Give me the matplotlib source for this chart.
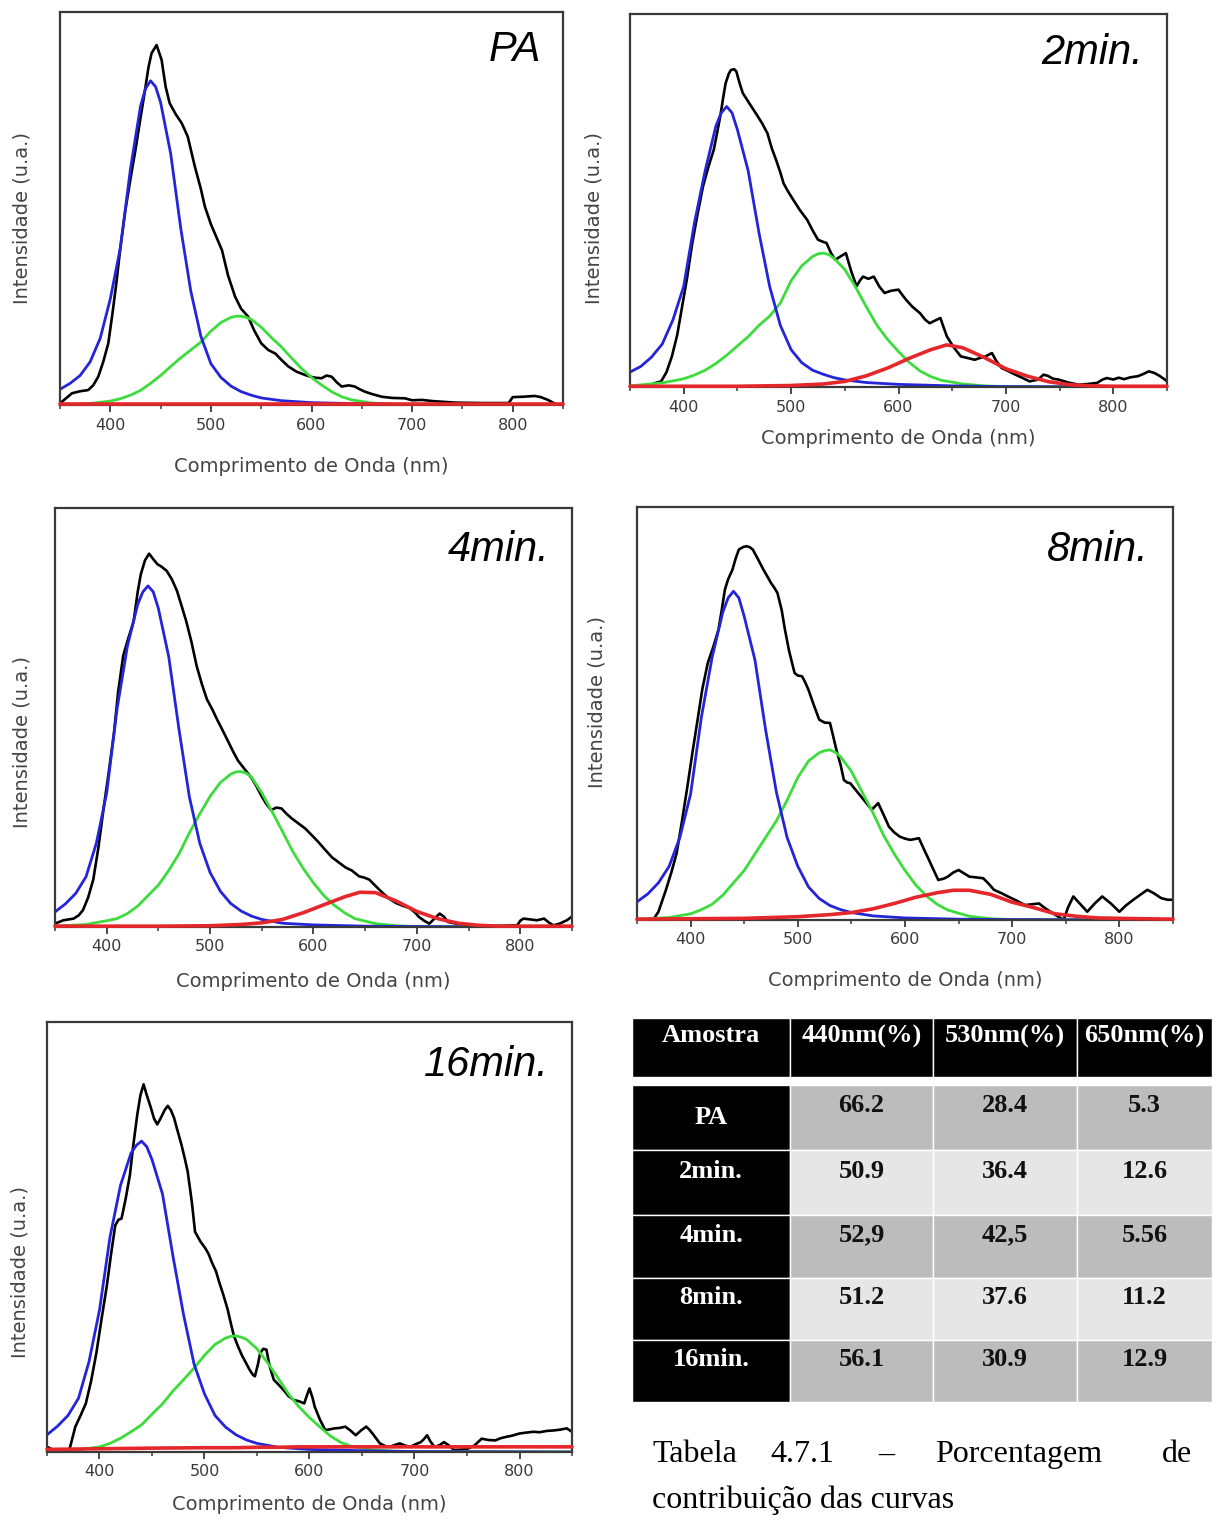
import matplotlib.pyplot as plt
from matplotlib.ticker import MultipleLocator

# shared wavelength grids for the fitted components (nm)
blue_nm = [350, 360, 370, 380, 390, 400, 410, 420, 430, 435, 440, 445, 450, 460, 470, 480, 490,
           500, 510, 520, 530, 540, 550, 570, 600, 650, 700, 850]
green_nm = [350, 380, 400, 410, 420, 430, 440, 450, 460, 470, 480, 490, 500, 510, 520, 525, 530,
            535, 540, 550, 560, 570, 580, 590, 600, 610, 620, 630, 640, 660, 680, 700, 850]
red_nm = [350, 450, 500, 530, 550, 570, 590, 610, 630, 645, 660, 680, 700, 720, 740, 760,
          780, 800, 850]

# ---- PA ----
pa_black = [(350, 0.004), (355, 0.015), (362, 0.03), (370, 0.035), (378, 0.038), (383, 0.05),
            (388, 0.072), (393, 0.11), (398, 0.157), (402, 0.23), (406, 0.31), (410, 0.40),
            (415, 0.496), (420, 0.575), (425, 0.649), (430, 0.73), (434, 0.793), (438, 0.86),
            (441, 0.895), (446, 0.916), (451, 0.878), (455, 0.81), (459, 0.768), (465, 0.74),
            (471, 0.717), (477, 0.683), (484, 0.607), (490, 0.55), (494, 0.505), (500, 0.46),
            (505, 0.43), (511, 0.394), (517, 0.33), (524, 0.276), (530, 0.245), (537, 0.225),
            (543, 0.19), (550, 0.157), (557, 0.14), (564, 0.131), (570, 0.115), (577, 0.098),
            (585, 0.085), (594, 0.076), (602, 0.07), (610, 0.068), (615, 0.075), (620, 0.072),
            (625, 0.058), (630, 0.047), (637, 0.05), (643, 0.047), (648, 0.04), (653, 0.034),
            (660, 0.028), (670, 0.021), (680, 0.018), (693, 0.017), (700, 0.012), (710, 0.013),
            (720, 0.01), (743, 0.006), (770, 0.005), (796, 0.005), (800, 0.02), (810, 0.021),
            (822, 0.023), (828, 0.02), (835, 0.013), (840, 0.006), (845, 0.0), (850, 0.003)]
pa_blue = [0.04, 0.055, 0.075, 0.11, 0.17, 0.27, 0.40, 0.60, 0.76, 0.805, 0.825, 0.81, 0.77,
           0.64, 0.45, 0.29, 0.175, 0.105, 0.07, 0.048, 0.034, 0.025, 0.018, 0.011, 0.006,
           0.003, 0.001, 0.0]
pa_green = [0.0, 0.004, 0.01, 0.016, 0.025, 0.037, 0.055, 0.075, 0.098, 0.12, 0.14, 0.16, 0.188,
            0.21, 0.223, 0.226, 0.226, 0.223, 0.218, 0.198, 0.172, 0.148, 0.12, 0.093, 0.07,
            0.051, 0.034, 0.021, 0.013, 0.005, 0.002, 0.001, 0.0]
pa_red = [0.002] * 19

# ---- 2min ----
m2_black = [(365, 0.0), (369, 0.006), (375, 0.012), (379, 0.015), (384, 0.04), (389, 0.082),
            (394, 0.14), (398, 0.207), (403, 0.29), (408, 0.386), (413, 0.465), (418, 0.538),
            (423, 0.59), (428, 0.636), (431, 0.68), (434, 0.725), (437, 0.78), (439, 0.814),
            (442, 0.84), (444, 0.85), (447, 0.852), (449, 0.846), (452, 0.815), (455, 0.788),
            (459, 0.77), (463, 0.752), (468, 0.73), (473, 0.707), (478, 0.68), (482, 0.64),
            (486, 0.609), (490, 0.575), (493, 0.546), (497, 0.525), (502, 0.502), (508, 0.475),
            (515, 0.448), (520, 0.42), (525, 0.395), (529, 0.39), (533, 0.386), (537, 0.36),
            (541, 0.341), (546, 0.35), (551, 0.359), (556, 0.31), (561, 0.27), (564, 0.285),
            (567, 0.296), (572, 0.29), (577, 0.296), (582, 0.27), (587, 0.252), (593, 0.258),
            (600, 0.261), (604, 0.245), (607, 0.234), (613, 0.215), (620, 0.198), (625, 0.18),
            (629, 0.171), (634, 0.178), (639, 0.185), (642, 0.16), (645, 0.136), (651, 0.108),
            (658, 0.082), (664, 0.078), (671, 0.073), (676, 0.078), (681, 0.082), (687, 0.091),
            (691, 0.07), (696, 0.051), (702, 0.043), (709, 0.033), (715, 0.025), (722, 0.015),
            (730, 0.02), (735, 0.033), (739, 0.03), (744, 0.022), (749, 0.02), (758, 0.012),
            (768, 0.006), (776, 0.008), (785, 0.011), (790, 0.02), (794, 0.024), (800, 0.02),
            (805, 0.025), (810, 0.021), (816, 0.026), (823, 0.029), (828, 0.035), (833, 0.042),
            (838, 0.038), (843, 0.03), (848, 0.02), (850, 0.015)]
m2_blue = [0.04, 0.055, 0.08, 0.115, 0.18, 0.27, 0.44, 0.58, 0.70, 0.735, 0.752, 0.735, 0.69,
           0.58, 0.415, 0.27, 0.165, 0.10, 0.065, 0.045, 0.034, 0.025, 0.019, 0.012, 0.007,
           0.003, 0.001, 0.0]
m2_green = [0.003, 0.011, 0.022, 0.032, 0.045, 0.063, 0.085, 0.11, 0.135, 0.165, 0.19, 0.225,
            0.285, 0.325, 0.35, 0.357, 0.359, 0.355, 0.345, 0.315, 0.268, 0.215, 0.165, 0.127,
            0.095, 0.066, 0.043, 0.028, 0.018, 0.008, 0.003, 0.001, 0.0]
m2_red = [0.002, 0.002, 0.004, 0.008, 0.015, 0.03, 0.051, 0.077, 0.1, 0.113, 0.105, 0.079,
          0.049, 0.029, 0.014, 0.006, 0.003, 0.002, 0.002]

# ---- 4min ----
m4_black = [(350, 0.008), (354, 0.012), (358, 0.016), (363, 0.018), (368, 0.02), (373, 0.028),
            (377, 0.04), (382, 0.07), (387, 0.113), (392, 0.19), (397, 0.283), (402, 0.37),
            (407, 0.462), (411, 0.56), (416, 0.648), (421, 0.69), (426, 0.729), (430, 0.8),
            (433, 0.842), (437, 0.875), (441, 0.891), (445, 0.878), (449, 0.866), (453, 0.86),
            (458, 0.85), (463, 0.83), (468, 0.802), (472, 0.77), (477, 0.729), (482, 0.68),
            (487, 0.623), (492, 0.58), (497, 0.543), (502, 0.52), (507, 0.494), (512, 0.47),
            (517, 0.445), (522, 0.42), (527, 0.397), (533, 0.378), (540, 0.356), (545, 0.335),
            (549, 0.316), (554, 0.295), (559, 0.279), (564, 0.285), (569, 0.283), (574, 0.27),
            (579, 0.259), (585, 0.248), (592, 0.235), (598, 0.22), (605, 0.202), (611, 0.185),
            (618, 0.166), (624, 0.155), (631, 0.142), (637, 0.135), (644, 0.121), (649, 0.118),
            (654, 0.113), (660, 0.098), (667, 0.081), (673, 0.068), (680, 0.057), (687, 0.05),
            (693, 0.045), (698, 0.035), (702, 0.024), (707, 0.015), (712, 0.008), (717, 0.02),
            (722, 0.032), (726, 0.025), (730, 0.012), (740, 0.007), (751, 0.004), (767, 0.002),
            (785, 0.003), (797, 0.004), (800, 0.015), (803, 0.02), (810, 0.018), (816, 0.016),
            (823, 0.02), (828, 0.01), (832, 0.004), (838, 0.008), (845, 0.016), (850, 0.025)]
m4_blue = [0.036, 0.055, 0.08, 0.12, 0.2, 0.32, 0.52, 0.67, 0.77, 0.80, 0.814, 0.80, 0.76,
           0.645, 0.47, 0.31, 0.2, 0.13, 0.085, 0.056, 0.038, 0.026, 0.018, 0.009, 0.005,
           0.002, 0.001, 0.0]
m4_green = [0.002, 0.006, 0.015, 0.02, 0.032, 0.05, 0.075, 0.1, 0.135, 0.175, 0.225, 0.27,
            0.312, 0.345, 0.365, 0.37, 0.371, 0.367, 0.358, 0.32, 0.275, 0.228, 0.18, 0.14,
            0.105, 0.075, 0.052, 0.034, 0.02, 0.008, 0.003, 0.001, 0.0]
m4_red = [0.002, 0.002, 0.003, 0.006, 0.01, 0.018, 0.034, 0.053, 0.072, 0.083, 0.082, 0.062,
          0.037, 0.02, 0.009, 0.004, 0.002, 0.002, 0.002]

# ---- 8min ----
m8_black = [(365, 0.0), (370, 0.02), (377, 0.073), (382, 0.115), (387, 0.162), (392, 0.24),
            (397, 0.323), (402, 0.41), (407, 0.493), (411, 0.56), (416, 0.622), (421, 0.66),
            (426, 0.703), (429, 0.75), (432, 0.8), (435, 0.825), (439, 0.848), (442, 0.875),
            (445, 0.897), (449, 0.903), (452, 0.905), (455, 0.903), (458, 0.897), (463, 0.873),
            (468, 0.848), (472, 0.83), (475, 0.816), (478, 0.805), (481, 0.792), (485, 0.75),
            (488, 0.703), (492, 0.65), (497, 0.598), (500, 0.592), (504, 0.59), (507, 0.575),
            (510, 0.557), (515, 0.52), (520, 0.485), (525, 0.478), (530, 0.477), (533, 0.445),
            (536, 0.412), (540, 0.375), (543, 0.339), (546, 0.333), (549, 0.331), (554, 0.315),
            (559, 0.299), (564, 0.283), (569, 0.267), (572, 0.275), (575, 0.283), (580, 0.255),
            (585, 0.226), (590, 0.212), (595, 0.202), (600, 0.197), (605, 0.194), (609, 0.196),
            (613, 0.198), (617, 0.175), (621, 0.153), (626, 0.125), (631, 0.097), (636, 0.1),
            (640, 0.105), (645, 0.115), (650, 0.121), (655, 0.113), (660, 0.105), (667, 0.103),
            (673, 0.101), (678, 0.088), (683, 0.073), (690, 0.065), (696, 0.057), (704, 0.047),
            (712, 0.036), (718, 0.038), (725, 0.04), (731, 0.028), (738, 0.016), (743, 0.008),
            (748, 0.0), (752, 0.03), (757, 0.057), (763, 0.04), (770, 0.02), (777, 0.04),
            (784, 0.057), (792, 0.04), (800, 0.02), (806, 0.035), (813, 0.049), (820, 0.062),
            (826, 0.073), (832, 0.065), (839, 0.053), (845, 0.049), (850, 0.049)]
m8_blue = [0.044, 0.063, 0.09, 0.13, 0.2, 0.305, 0.49, 0.635, 0.745, 0.78, 0.796, 0.78, 0.735,
           0.63, 0.46, 0.31, 0.2, 0.13, 0.08, 0.052, 0.035, 0.025, 0.018, 0.01, 0.005, 0.002,
           0.001, 0.0]
m8_green = [0.002, 0.006, 0.015, 0.025, 0.038, 0.06, 0.09, 0.12, 0.16, 0.2, 0.24, 0.29, 0.345,
            0.385, 0.405, 0.41, 0.412, 0.406, 0.395, 0.36, 0.31, 0.26, 0.205, 0.16, 0.12, 0.085,
            0.058, 0.038, 0.024, 0.009, 0.003, 0.001, 0.0]
m8_red = [0.002, 0.004, 0.008, 0.013, 0.018, 0.027, 0.04, 0.055, 0.066, 0.072, 0.072, 0.062,
          0.043, 0.03, 0.015, 0.009, 0.005, 0.004, 0.002]

# ---- 16min ----
m16_black = [(350, 0.012), (355, 0.006), (360, 0.002), (364, 0.0), (371, 0.002), (377, 0.059),
             (382, 0.085), (387, 0.113), (392, 0.165), (397, 0.23), (402, 0.31), (407, 0.387),
             (411, 0.46), (415, 0.527), (418, 0.54), (421, 0.543), (425, 0.59), (429, 0.645),
             (432, 0.71), (436, 0.785), (439, 0.83), (442, 0.855), (445, 0.83), (449, 0.8),
             (452, 0.775), (455, 0.762), (458, 0.775), (462, 0.795), (465, 0.805), (468, 0.795),
             (471, 0.777), (474, 0.75), (478, 0.715), (481, 0.685), (484, 0.652), (488, 0.58),
             (491, 0.512), (496, 0.49), (501, 0.473), (504, 0.46), (507, 0.441), (511, 0.42),
             (514, 0.395), (518, 0.365), (522, 0.332), (525, 0.3), (528, 0.27), (532, 0.245),
             (536, 0.223), (540, 0.205), (543, 0.191), (546, 0.18), (548, 0.176), (551, 0.205),
             (553, 0.23), (556, 0.24), (559, 0.238), (562, 0.2), (566, 0.168), (570, 0.158),
             (575, 0.145), (580, 0.13), (585, 0.121), (590, 0.118), (595, 0.113), (598, 0.135),
             (600, 0.148), (603, 0.125), (605, 0.105), (610, 0.075), (615, 0.051), (620, 0.053),
             (624, 0.055), (629, 0.056), (634, 0.059), (639, 0.05), (644, 0.039), (649, 0.05),
             (654, 0.059), (657, 0.052), (660, 0.043), (664, 0.03), (667, 0.02), (672, 0.014),
             (676, 0.012), (681, 0.016), (686, 0.02), (691, 0.015), (696, 0.012), (701, 0.018),
             (706, 0.023), (709, 0.03), (712, 0.039), (715, 0.025), (719, 0.012), (724, 0.016),
             (728, 0.023), (733, 0.015), (738, 0.004), (745, 0.006), (751, 0.008), (757, 0.015),
             (764, 0.031), (770, 0.028), (777, 0.027), (782, 0.032), (787, 0.035), (793, 0.038),
             (800, 0.043), (806, 0.045), (813, 0.047), (819, 0.046), (826, 0.049), (832, 0.05),
             (839, 0.052), (845, 0.055), (850, 0.047)]
m16_blue = [0.04, 0.06, 0.085, 0.125, 0.21, 0.33, 0.5, 0.62, 0.695, 0.713, 0.723, 0.71, 0.68,
            0.6, 0.455, 0.32, 0.205, 0.135, 0.085, 0.058, 0.04, 0.028, 0.02, 0.011, 0.006,
            0.003, 0.001, 0.0]
m16_green = [0.002, 0.005, 0.012, 0.02, 0.032, 0.047, 0.063, 0.088, 0.112, 0.142, 0.168, 0.195,
             0.225, 0.25, 0.265, 0.269, 0.27, 0.267, 0.262, 0.24, 0.208, 0.172, 0.135, 0.105,
             0.08, 0.058, 0.037, 0.022, 0.013, 0.005, 0.002, 0.001, 0.0]
m16_red = [0.006, 0.009, 0.01, 0.01, 0.011, 0.011, 0.012, 0.012, 0.012, 0.012, 0.012, 0.012,
           0.012, 0.012, 0.012, 0.012, 0.012, 0.012, 0.012]

# ---- tabela ----
tab_header = ['Amostra', '440nm(%)', '530nm(%)', '650nm(%)']
amostras = ['PA', '2min.', '4min.', '8min.', '16min.']
pct_440 = ['66.2', '50.9', '52,9', '51.2', '56.1']
pct_530 = ['28.4', '36.4', '42,5', '37.6', '30.9']
pct_650 = ['5.3', '12.6', '5.56', '11.2', '12.9']

W, H = 1220, 1522
C_BLUE, C_GREEN, C_RED = '#2424d8', '#3cdc3c', '#e5262a'
C_AX = '#3a3a3a'


def box(l, r, t, b):
    return [l / W, 1 - b / H, (r - l) / W, (b - t) / H]


fig = plt.figure(figsize=(12.2, 15.22), dpi=100)

# name, data, axes box px (l, r, t, b), xlabel center y, ylabel center (x, y), tag (right, top)
paineis = [
    ('PA', pa_black, pa_blue, pa_green, pa_red, (60, 563, 12, 405), 466, (22, 218), (541, 30)),
    ('2min.', m2_black, m2_blue, m2_green, m2_red, (630, 1167, 14, 387), 438, (594, 218), (1143, 33)),
    ('4min.', m4_black, m4_blue, m4_green, m4_red, (55, 572, 508, 927), 982, (22, 742), (549, 530)),
    ('8min.', m8_black, m8_blue, m8_green, m8_red, (637, 1173, 507, 920), 980, (597, 702), (1149, 530)),
    ('16min.', m16_black, m16_blue, m16_green, m16_red, (47, 572, 1022, 1452), 1505, (20, 1272), (549, 1045)),
]

for nome, blk, azul, verde, verm, px, xl_y, yl, tag in paineis:
    l, r, t, b = px
    wpx, hpx = r - l, b - t
    ax = fig.add_axes(box(l, r, t, b))
    kw = dict(solid_joinstyle='round', solid_capstyle='round')
    ax.plot([p[0] for p in blk], [p[1] for p in blk], color='black', lw=1.9, zorder=2, **kw)
    ax.plot(green_nm, verde, color=C_GREEN, lw=2.0, zorder=2.2, **kw)
    ax.plot(blue_nm, azul, color=C_BLUE, lw=2.0, zorder=2.3, **kw)
    ax.plot(red_nm, verm, color=C_RED, lw=2.6, zorder=3, clip_on=False, **kw)
    ax.set_xlim(350, 850)
    ax.set_ylim(0, 1)
    ax.set_xticks([400, 500, 600, 700, 800])
    ax.xaxis.set_minor_locator(MultipleLocator(50))
    ax.set_yticks([])
    ax.tick_params(axis='x', which='major', length=5, width=1.3, color=C_AX,
                   labelsize=11.5, labelcolor=C_AX, pad=4)
    ax.tick_params(axis='x', which='minor', length=3, width=1.1, color=C_AX)
    for s in ax.spines.values():
        s.set_color(C_AX)
        s.set_linewidth(1.6)
    ax.set_xlabel('Comprimento de Onda (nm)', fontsize=14, color='#444444', va='center')
    ax.xaxis.set_label_coords(0.5, -(xl_y - b) / hpx)
    ax.set_ylabel('Intensidade (u.a.)', fontsize=14, color='#444444', va='center')
    ax.yaxis.set_label_coords(-(l - yl[0]) / wpx, (b - yl[1]) / hpx)
    ax.text((tag[0] - l) / wpx, 1 - (tag[1] - t) / hpx, nome, transform=ax.transAxes,
            ha='right', va='top', fontsize=30, style='italic', family='Liberation Sans')

# tabela de porcentagens
tax = fig.add_axes(box(632, 1212, 1018, 1402))
tax.axis('off')
linhas = [tab_header, [''] * 4] + [list(z) for z in zip(amostras, pct_440, pct_530, pct_650)]
tbl = tax.table(cellText=linhas, cellLoc='center', bbox=[0, 0, 1, 1])
tbl.auto_set_font_size(False)
col_w = [158, 143, 144, 135]
row_h = [59, 8, 65, 65, 63, 62, 62]
for (ri, ci), cell in tbl.get_celld().items():
    cell.set_width(col_w[ci])
    cell.set_height(row_h[ri])
    cell.set_edgecolor('white')
    cell.set_linewidth(1.0)
    txt = cell.get_text()
    txt.set_fontfamily('Liberation Serif')
    txt.set_fontweight('bold')
    txt.set_fontsize(19)
    if ri == 1:
        cell.set_facecolor('white')
        cell.set_linewidth(0)
    elif ri == 0 or ci == 0:
        cell.set_facecolor('black')
        txt.set_color('white')
        if not (ri == 2 and ci == 0):
            txt.set_va('bottom')
    else:
        cell.set_facecolor('#bcbcbc' if ri % 2 == 0 else '#e6e6e6')
        txt.set_color('#111111')
        txt.set_va('bottom')

# legenda da tabela (justificada palavra a palavra)
for palavra, xp in [('Tabela', 652), ('4.7.1', 770), ('\u2013', 878), ('Porcentagem', 935), ('de', 1162)]:
    fig.text(xp / W, 1 - 1462 / H, palavra, fontsize=23, family='Liberation Serif', va='baseline')
fig.text(652 / W, 1 - 1508 / H, 'contribuição das curvas', fontsize=23,
         family='Liberation Serif', va='baseline')

fig.savefig('out.png', dpi=100)
